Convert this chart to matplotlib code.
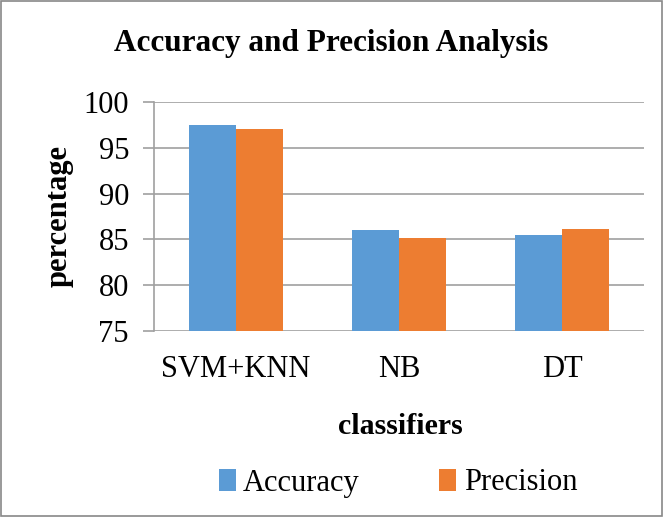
import numpy as np
import matplotlib.pyplot as plt
from matplotlib.patches import Rectangle

plt.rcParams['font.family'] = ['Liberation Serif', 'DejaVu Serif']

classifiers = ['SVM+KNN', 'NB', 'DT']
accuracy = [97.5, 86.0, 85.5]
precision = [97.1, 85.2, 86.1]

blue = '#5B9BD5'
orange = '#ED7D31'
grid_col = '#A0A0A0'

fig = plt.figure(figsize=(6.63, 5.17), dpi=100)
ax = fig.add_axes([154/663, 1-331/517, (644-154)/663, (331-102)/517])

x = np.arange(len(classifiers))
w = 0.288
ax.bar(x - w/2, accuracy, w, color=blue, label='Accuracy', zorder=3)
ax.bar(x + w/2, precision, w, color=orange, label='Precision', zorder=3)

ax.set_xlim(-0.5, 2.5)
ax.set_ylim(75, 100)
ax.set_yticks([75, 80, 85, 90, 95, 100])
ax.set_xticks(x)
ax.set_xticklabels(classifiers)
ax.tick_params(axis='y', labelsize=22, length=8, color=grid_col, width=1.2, pad=10)
ax.tick_params(axis='x', labelsize=22, length=0, pad=17)
ax.yaxis.grid(True, color=grid_col, linewidth=1.2, zorder=0)
for s in ['top', 'right', 'bottom']:
    ax.spines[s].set_visible(False)
ax.spines['left'].set_color(grid_col)
ax.spines['left'].set_linewidth(1.2)

# axis titles placed in figure coords
fig.text(59/663, 1-216/517, 'percentage', fontsize=22, fontweight='bold',
         rotation=90, ha='center', va='center')
fig.text(0.5, 1-43/517, 'Accuracy and Precision Analysis', fontsize=22.5,
         fontweight='bold', ha='center', va='center')
fig.text(400/663, 1-427/517, 'classifiers', fontsize=21.5, fontweight='bold',
         ha='center', va='center')

fig.legend(loc='center', bbox_to_anchor=(398/663, 1-483/517), ncol=2,
           frameon=False, fontsize=22, handlelength=0.55, handleheight=0.75,
           handletextpad=0.25, columnspacing=2.6)

fig.patches.append(Rectangle((0.002, 0.002), 0.996, 0.996, transform=fig.transFigure,
                             fill=False, edgecolor='#888888', linewidth=1.2))

fig.savefig('out.png', dpi=100)
